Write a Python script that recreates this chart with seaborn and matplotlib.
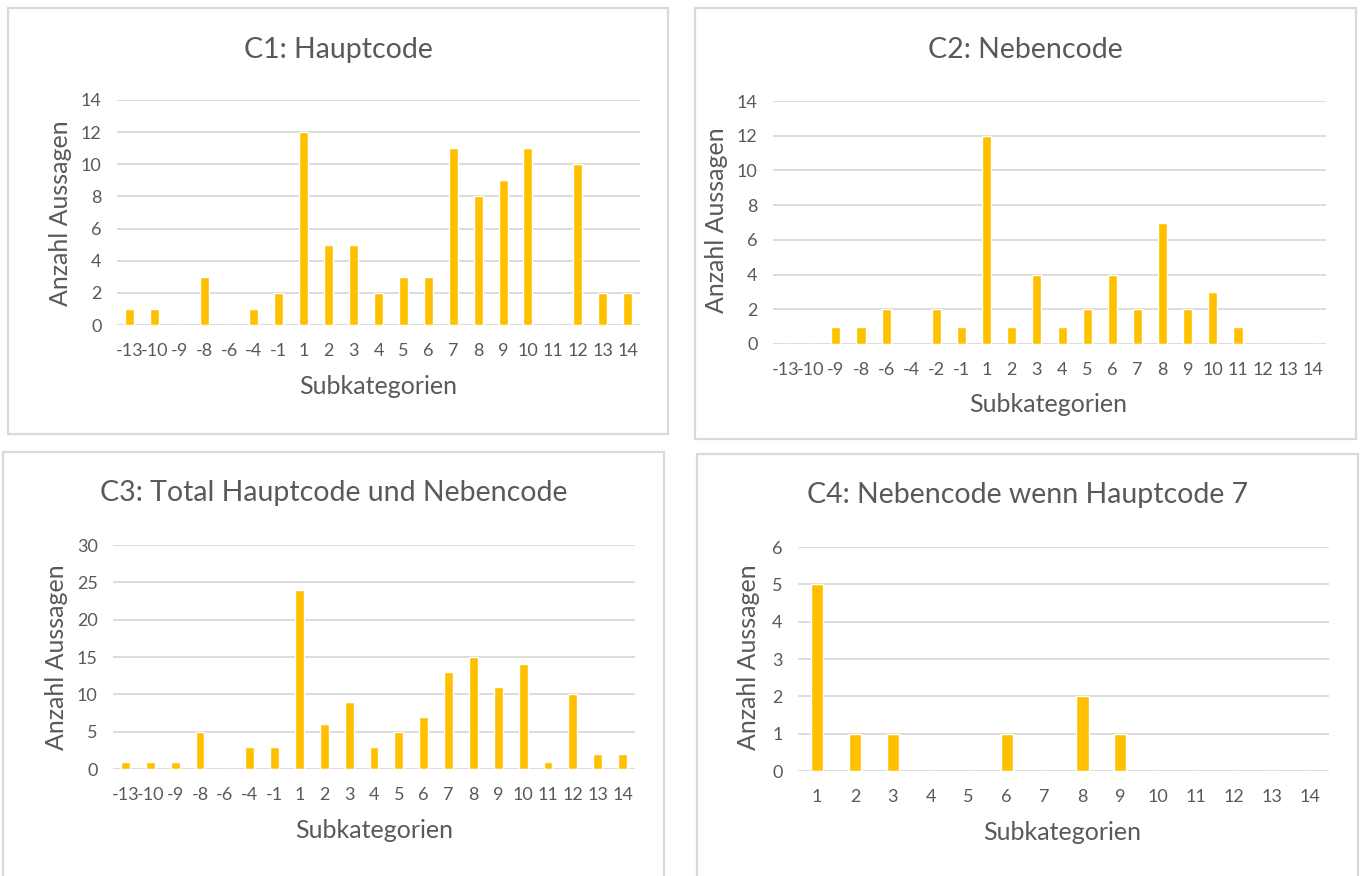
import numpy as np
import pandas as pd
import matplotlib
matplotlib.use("Agg")
import matplotlib.pyplot as plt
from matplotlib.patches import Rectangle
import seaborn as sns

# data
cats_c1 = ['-13', '-10', '-9', '-8', '-6', '-4', '-1', '1', '2', '3', '4', '5', '6',
           '7', '8', '9', '10', '11', '12', '13', '14']
vals_c1 = [1, 1, 0, 3, 0, 1, 2, 12, 5, 5, 2, 3, 3, 11, 8, 9, 11, 0, 10, 2, 2]

cats_c2 = ['-13', '-10', '-9', '-8', '-6', '-4', '-2', '-1', '1', '2', '3', '4', '5', '6',
           '7', '8', '9', '10', '11', '12', '13', '14']
vals_c2 = [0, 0, 1, 1, 2, 0, 2, 1, 12, 1, 4, 1, 2, 4, 2, 7, 2, 3, 1, 0, 0, 0]

cats_c3 = cats_c1
vals_c3 = [1, 1, 1, 5, 0, 3, 3, 24, 6, 9, 3, 5, 7, 13, 15, 11, 14, 1, 10, 2, 2]

cats_c4 = ['1', '2', '3', '4', '5', '6', '7', '8', '9', '10', '11', '12', '13', '14']
vals_c4 = [5, 1, 1, 0, 0, 1, 0, 2, 1, 0, 0, 0, 0, 0]

titles = ['C1: Hauptcode', 'C2: Nebencode', 'C3: Total Hauptcode und Nebencode',
          'C4: Nebencode wenn Hauptcode 7']

sns.set_style("white")
plt.rcParams['font.family'] = ['Lato', 'DejaVu Sans']

W, H = 1362, 876
GOLD = '#FFC000'
TXT = '#595959'
GRID = '#D9D9D9'

fig = plt.figure(figsize=(W / 100, H / 100), dpi=100)


def px_box(l, t, r, b):
    rect = Rectangle((l / W, 1 - b / H), (r - l) / W, (b - t) / H, transform=fig.transFigure,
                     fill=False, edgecolor=GRID, lw=1.6)
    fig.patches.append(rect)


def px_axes(l, t, r, b):
    return fig.add_axes([l / W, 1 - b / H, (r - l) / W, (b - t) / H])


def draw(ax, cats, vals, ymax, step, width):
    df = pd.DataFrame({'cat': cats, 'n': vals})
    sns.barplot(data=df, x='cat', y='n', order=cats, color=GOLD, width=width,
                saturation=1, ax=ax)
    ax.set_ylim(0, ymax)
    ax.set_yticks(np.arange(0, ymax + 1, step))
    ax.set_xlim(-0.5, len(cats) - 0.5)
    ax.grid(axis='y', color=GRID, lw=1.3)
    ax.set_axisbelow(True)
    for s in ax.spines.values():
        s.set_visible(False)
    ax.tick_params(length=0, labelsize=13, labelcolor=TXT)
    ax.tick_params(axis='x', pad=13)
    ax.tick_params(axis='y', pad=11)
    ax.set_xlabel('')
    ax.set_ylabel('')


# chart boxes
boxes = [(8, 8, 668, 434), (695, 8, 1356, 439), (3, 452, 664, 880), (697, 454, 1358, 880)]
for b in boxes:
    px_box(*b)

ax1 = px_axes(117, 100, 640, 325)
draw(ax1, cats_c1, vals_c1, 14, 2, 0.36)
ax2 = px_axes(773, 101, 1326, 344)
draw(ax2, cats_c2, vals_c2, 14, 2, 0.36)
ax3 = px_axes(113, 545, 635, 769)
draw(ax3, cats_c3, vals_c3, 30, 5, 0.36)
ax4 = px_axes(798, 547, 1329, 771)
draw(ax4, cats_c4, vals_c4, 6, 1, 0.32)

# titles, centred in each chart box
for b, y, t in zip(boxes, [50, 50, 493, 495], titles):
    x = (b[0] + b[2]) / 2
    fig.text(x / W, 1 - y / H, t, ha='center', va='center', fontsize=20.5, color=TXT)

# axis labels
for x, y in [(378, 387), (1048, 405), (374, 830), (1062, 832)]:
    fig.text(x / W, 1 - y / H, 'Subkategorien', ha='center', va='center', fontsize=18, color=TXT)
for x, y in [(60, 213), (717, 220), (57, 657), (748, 657)]:
    fig.text(x / W, 1 - y / H, 'Anzahl Aussagen', ha='center', va='center', fontsize=18,
             color=TXT, rotation=90)

fig.savefig('out.png', dpi=100, facecolor='white')
